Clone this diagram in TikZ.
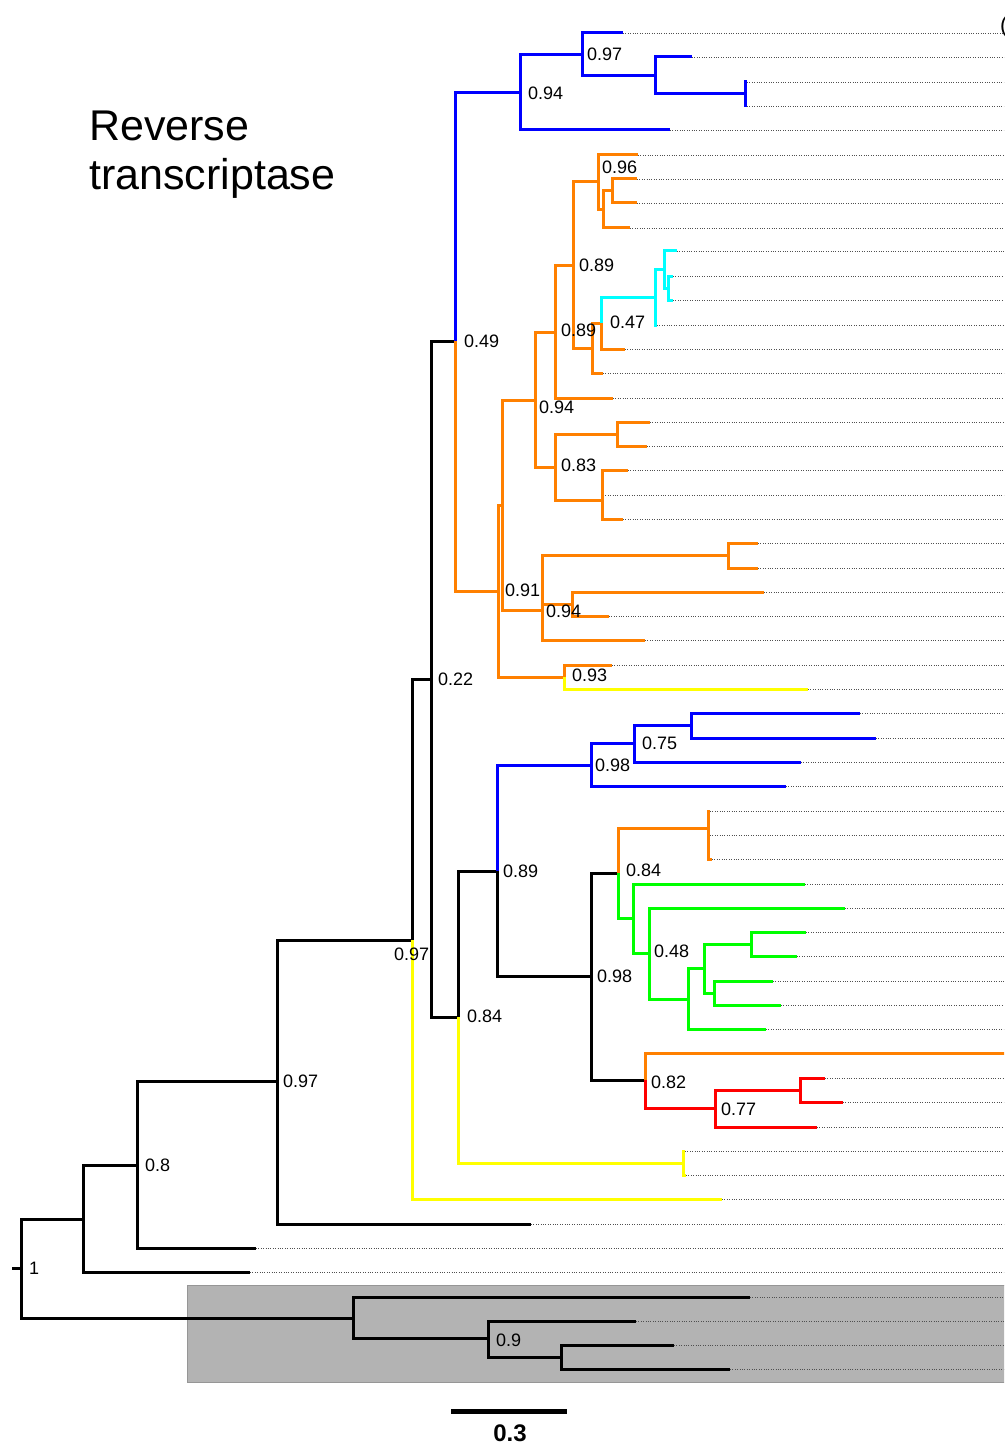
\documentclass[tikz,border=0pt]{standalone}
\usepackage{fontspec}
\setmainfont{Liberation Sans}
\definecolor{tBl}{RGB}{0,0,255}
\definecolor{tOr}{RGB}{255,128,0}
\definecolor{tCy}{RGB}{0,255,255}
\definecolor{tYe}{RGB}{255,255,0}
\definecolor{tGr}{RGB}{0,255,0}
\definecolor{tRd}{RGB}{255,0,0}
\definecolor{tBox}{RGB}{179,179,179}
\definecolor{tBoxLine}{RGB}{150,150,150}
\definecolor{tDot}{RGB}{80,80,80}
\newcommand\tleaf[3]{\coordinate (#1) at (#2,#3); \draw[dotline] (#1) -- (#1 -| redge);}
\begin{document}
\begin{tikzpicture}[x=1pt,y=-1pt,
  brn/.style={line width=3pt, line join=miter},
  cBk/.style={brn, draw=black},
  cBl/.style={brn, draw=tBl},
  cOr/.style={brn, draw=tOr},
  cCy/.style={brn, draw=tCy},
  cYe/.style={brn, draw=tYe},
  cGr/.style={brn, draw=tGr},
  cRd/.style={brn, draw=tRd},
  dotline/.style={draw=tDot, line width=0.7pt, dash pattern=on 0.8pt off 1.6pt},
  lab/.style={anchor=west, inner sep=0pt, font=\fontsize{18}{20}\selectfont},
  ttl/.style={anchor=base west, inner sep=0pt, font=\fontsize{43}{50}\selectfont}]
\useasboundingbox (0,0) rectangle (1004,1447);
\clip (0,0) rectangle (1004,1447);
\coordinate (redge) at (1004,0);
% outgroup box
\path[fill=tBox, draw=tBoxLine, line width=1pt] (187,1285) rectangle (1012,1382);
% title
\node[ttl] (title1) at (89,141) {Reverse};
\node[ttl] (title2) at (89,190) {transcriptase};
% cut-off text at top right
\node[anchor=west, inner sep=0pt, font=\fontsize{22}{24}\selectfont] (cut) at (1000,27) {(};
% leaves
\tleaf{L33}{623}{33}
\tleaf{L57}{692}{57}
\tleaf{L82}{747}{82}
\tleaf{L106}{747}{106}
\tleaf{L130}{670}{130}
\tleaf{L155}{638}{155}
\tleaf{L179}{637}{179}
\tleaf{L203}{637}{203}
\tleaf{L228}{630}{228}
\tleaf{L251}{677}{251}
\tleaf{L276}{673}{276}
\tleaf{L300}{673}{300}
\tleaf{L325}{657}{325}
\tleaf{L349}{625}{349}
\tleaf{L373}{603}{373}
\tleaf{L398}{613}{398}
\tleaf{L422}{650}{422}
\tleaf{L446}{647}{446}
\tleaf{L470}{628}{470}
\tleaf{L495}{603}{495}
\tleaf{L519}{623}{519}
\tleaf{L543}{758}{543}
\tleaf{L568}{758}{568}
\tleaf{L592}{764}{592}
\tleaf{L616}{609}{616}
\tleaf{L640}{645}{640}
\tleaf{L665}{612}{665}
\tleaf{L689}{808}{689}
\tleaf{L713}{860}{713}
\tleaf{L738}{876}{738}
\tleaf{L762}{801}{762}
\tleaf{L786}{786}{786}
\tleaf{L811}{710}{811}
\tleaf{L835}{710}{835}
\tleaf{L859}{712}{859}
\tleaf{L884}{805}{884}
\tleaf{L908}{845}{908}
\tleaf{L932}{806}{932}
\tleaf{L956}{797}{956}
\tleaf{L981}{773}{981}
\tleaf{L1005}{781}{1005}
\tleaf{L1029}{766}{1029}
\coordinate (L1053) at (1010,1053);
\tleaf{L1078}{825}{1078}
\tleaf{L1102}{843}{1102}
\tleaf{L1127}{817}{1127}
\tleaf{L1151}{685}{1151}
\tleaf{L1175}{686}{1175}
\tleaf{L1199}{722}{1199}
\tleaf{L1224}{531}{1224}
\tleaf{L1248}{256}{1248}
\tleaf{L1272}{250}{1272}
\tleaf{L1297}{750}{1297}
\tleaf{L1321}{636}{1321}
\tleaf{L1345}{674}{1345}
\tleaf{L1369}{730}{1369}
% internal nodes
\coordinate (r0) at (12,1268);
\coordinate (r) at (21,1268);
\coordinate (n83) at (83,1219);
\coordinate (nOG) at (353,1318);
\coordinate (n137) at (137,1165);
\coordinate (n277) at (277,1081);
\coordinate (n412) at (412,940);
\coordinate (n431) at (431,679);
\coordinate (n455) at (455,341);
\coordinate (n458) at (458,1017);
\coordinate (n520) at (520,93);
\coordinate (n582) at (582,55);
\coordinate (n655) at (655,76);
\coordinate (n745) at (745,94);
\coordinate (n498) at (498,591);
\coordinate (n502) at (502,505);
\coordinate (n564) at (564,677);
\coordinate (n535) at (535,400);
\coordinate (n542) at (542,610);
\coordinate (n555a) at (555,332);
\coordinate (n555b) at (555,467);
\coordinate (n573) at (573,265);
\coordinate (n598) at (598,182);
\coordinate (n592) at (592,348);
\coordinate (n603) at (603,210);
\coordinate (n612) at (612,191);
\coordinate (n601) at (601,323);
\coordinate (n655c) at (655,297);
\coordinate (n664) at (664,269);
\coordinate (n668) at (668,288);
\coordinate (n617) at (617,434);
\coordinate (n602) at (602,500);
\coordinate (n728) at (728,555);
\coordinate (n572) at (572,604);
\coordinate (n497) at (497,871);
\coordinate (n683) at (683,1163);
\coordinate (n591b) at (591,765);
\coordinate (n591k) at (591,976);
\coordinate (n634) at (634,743);
\coordinate (n691) at (691,725);
\coordinate (n618) at (618,873);
\coordinate (n645) at (645,1080);
\coordinate (n708) at (708,828);
\coordinate (n633) at (633,918);
\coordinate (n649) at (649,953);
\coordinate (n688) at (688,999);
\coordinate (n704) at (704,968);
\coordinate (n751) at (751,944);
\coordinate (n714) at (714,993);
\coordinate (n715) at (715,1108);
\coordinate (n800) at (800,1090);
\coordinate (n488) at (488,1338);
\coordinate (n561) at (561,1357);
% branches
\draw[cBk] (r0) -- (r);
\draw[cBk] (r) |- (nOG);
\draw[cBk] (r) |- (n83);
\draw[cBk] (n83) |- (n137);
\draw[cBk] (n83) |- (L1272);
\draw[cBk] (n137) |- (n277);
\draw[cBk] (n137) |- (L1248);
\draw[cBk] (n277) |- (n412);
\draw[cBk] (n277) |- (L1224);
\draw[cBk] (n412) |- (n431);
\draw[cYe] (n412) |- (L1199);
\draw[cBk] (n431) |- (n455);
\draw[cBk] (n431) |- (n458);
\draw[cBl] (n455) |- (n520);
\draw[cOr] (n455) |- (n498);
\draw[cBl] (n520) |- (n582);
\draw[cBl] (n520) |- (L130);
\draw[cBl] (n582) |- (L33);
\draw[cBl] (n582) |- (n655);
\draw[cBl] (n655) |- (L57);
\draw[cBl] (n655) |- (n745);
\draw[cBl] (n745) |- (L82);
\draw[cBl] (n745) |- (L106);
\draw[cOr] (n498) |- (n502);
\draw[cOr] (n498) |- (n564);
\draw[cOr] (n502) |- (n535);
\draw[cOr] (n502) |- (n542);
\draw[cOr] (n535) |- (n555a);
\draw[cOr] (n535) |- (n555b);
\draw[cOr] (n555a) |- (n573);
\draw[cOr] (n555a) |- (L398);
\draw[cOr] (n573) |- (n598);
\draw[cOr] (n573) |- (n592);
\draw[cOr] (n598) |- (L155);
\draw[cOr] (n598) |- (n603);
\draw[cOr] (n603) |- (n612);
\draw[cOr] (n603) |- (L228);
\draw[cOr] (n612) |- (L179);
\draw[cOr] (n612) |- (L203);
\draw[cOr] (n592) |- (n601);
\draw[cOr] (n592) |- (L373);
\draw[cCy] (n601) |- (n655c);
\draw[cOr] (n601) |- (L349);
\draw[cCy] (n655c) |- (n664);
\draw[cCy] (n655c) |- (L325);
\draw[cCy] (n664) |- (L251);
\draw[cCy] (n664) |- (n668);
\draw[cCy] (n668) |- (L276);
\draw[cCy] (n668) |- (L300);
\draw[cOr] (n555b) |- (n617);
\draw[cOr] (n555b) |- (n602);
\draw[cOr] (n617) |- (L422);
\draw[cOr] (n617) |- (L446);
\draw[cOr] (n602) |- (L470);
\draw[cOr] (n602) |- (L495);
\draw[cOr] (n602) |- (L519);
\draw[cOr] (n542) |- (n728);
\draw[cOr] (n542) |- (n572);
\draw[cOr] (n542) |- (L640);
\draw[cOr] (n728) |- (L543);
\draw[cOr] (n728) |- (L568);
\draw[cOr] (n572) |- (L592);
\draw[cOr] (n572) |- (L616);
\draw[cOr] (n564) |- (L665);
\draw[cYe] (n564) |- (L689);
\draw[cBk] (n458) |- (n497);
\draw[cYe] (n458) |- (n683);
\draw[cYe] (n683) |- (L1151);
\draw[cYe] (n683) |- (L1175);
\draw[cBl] (n497) |- (n591b);
\draw[cBk] (n497) |- (n591k);
\draw[cBl] (n591b) |- (n634);
\draw[cBl] (n591b) |- (L786);
\draw[cBl] (n634) |- (n691);
\draw[cBl] (n634) |- (L762);
\draw[cBl] (n691) |- (L713);
\draw[cBl] (n691) |- (L738);
\draw[cBk] (n591k) |- (n618);
\draw[cBk] (n591k) |- (n645);
\draw[cOr] (n618) |- (n708);
\draw[cGr] (n618) |- (n633);
\draw[cOr] (n708) |- (L811);
\draw[cOr] (n708) |- (L835);
\draw[cOr] (n708) |- (L859);
\draw[cGr] (n633) |- (L884);
\draw[cGr] (n633) |- (n649);
\draw[cGr] (n649) |- (L908);
\draw[cGr] (n649) |- (n688);
\draw[cGr] (n688) |- (n704);
\draw[cGr] (n688) |- (L1029);
\draw[cGr] (n704) |- (n751);
\draw[cGr] (n704) |- (n714);
\draw[cGr] (n751) |- (L932);
\draw[cGr] (n751) |- (L956);
\draw[cGr] (n714) |- (L981);
\draw[cGr] (n714) |- (L1005);
\draw[cOr] (n645) |- (L1053);
\draw[cRd] (n645) |- (n715);
\draw[cRd] (n715) |- (n800);
\draw[cRd] (n715) |- (L1127);
\draw[cRd] (n800) |- (L1078);
\draw[cRd] (n800) |- (L1102);
\draw[cBk] (nOG) |- (L1297);
\draw[cBk] (nOG) |- (n488);
\draw[cBk] (n488) |- (L1321);
\draw[cBk] (n488) |- (n561);
\draw[cBk] (n561) |- (L1345);
\draw[cBk] (n561) |- (L1369);
% support labels
\node[lab] (s1) at (587,54) {0.97};
\node[lab] (s2) at (528,93) {0.94};
\node[lab] (s3) at (602,167) {0.96};
\node[lab] (s4) at (579,265) {0.89};
\node[lab] (s5) at (610,322) {0.47};
\node[lab] (s6) at (561,330) {0.89};
\node[lab] (s7) at (464,341) {0.49};
\node[lab] (s8) at (539,407) {0.94};
\node[lab] (s9) at (561,465) {0.83};
\node[lab] (s10) at (505,590) {0.91};
\node[lab] (s11) at (546,611) {0.94};
\node[lab] (s12) at (572,675) {0.93};
\node[lab] (s13) at (438,679) {0.22};
\node[lab] (s14) at (642,743) {0.75};
\node[lab] (s15) at (595,765) {0.98};
\node[lab] (s16) at (626,870) {0.84};
\node[lab] (s17) at (503,871) {0.89};
\node[lab] (s18) at (654,951) {0.48};
\node[lab] (s19) at (394,954) {0.97};
\node[lab] (s20) at (597,976) {0.98};
\node[lab] (s21) at (467,1016) {0.84};
\node[lab] (s22) at (283,1081) {0.97};
\node[lab] (s23) at (651,1082) {0.82};
\node[lab] (s24) at (721,1109) {0.77};
\node[lab] (s25) at (145,1165) {0.8};
\node[lab] (s26) at (29,1268) {1};
\node[lab] (s27) at (496,1340) {0.9};
% scale bar
\coordinate (sb1) at (451,1411);
\coordinate (sb2) at (567,1411);
\draw[line width=5pt] (sb1) -- (sb2);
\node[inner sep=0pt, font=\bfseries\fontsize{24}{26}\selectfont] (sbl) at (510,1433) {0.3};
\end{tikzpicture}
\end{document}
